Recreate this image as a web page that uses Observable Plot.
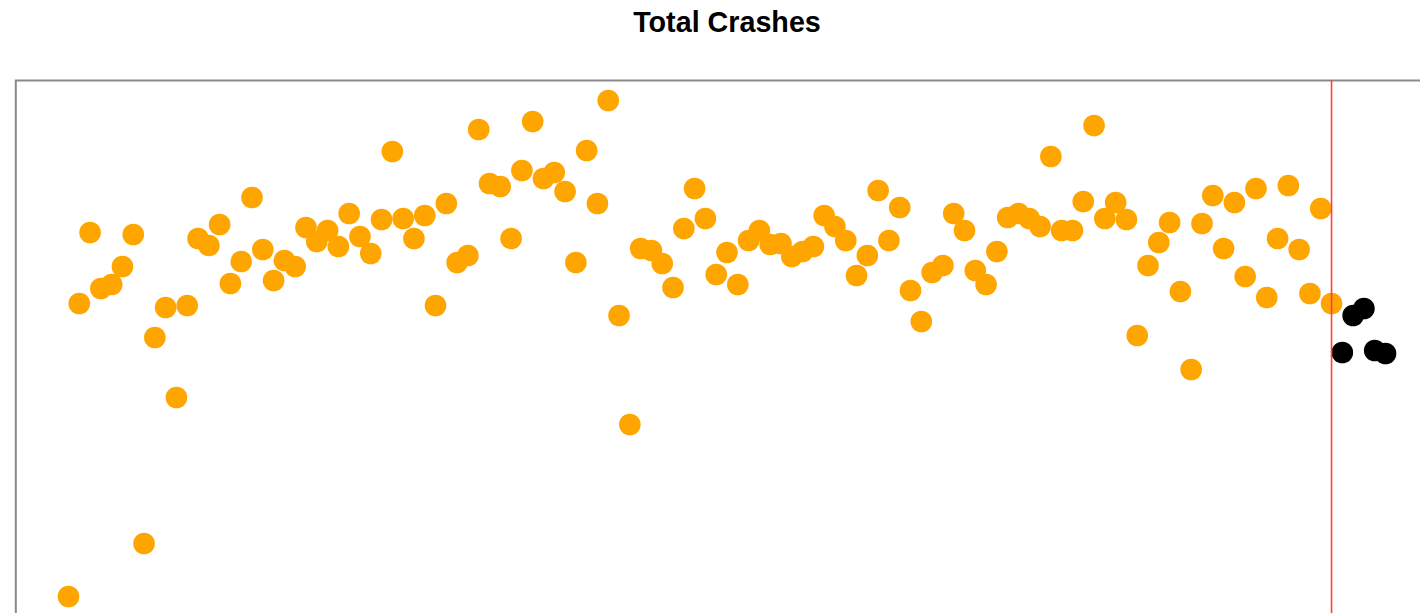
<!DOCTYPE html>
<html>
<head>
<meta charset="utf-8">
<script src="https://cdn.jsdelivr.net/npm/d3@7"></script>
<script src="https://cdn.jsdelivr.net/npm/@observablehq/plot@0.6"></script>
<style>
  html, body { margin: 0; padding: 0; background: #fff; }
  svg { overflow: hidden; display: block; }
</style>
</head>
<body>
<div id="chart"></div>
<script>
const title = "Total Crashes";

// Observed monthly totals (orange), in chart value units
const observed = [
  44, 337, 408, 352, 356, 374, 406, 97, 303, 333, 243, 335, 402, 395, 416, 357, 379, 443, 391, 360,
  380, 374, 413, 399, 410, 394, 427, 404, 387, 421, 489, 422, 402, 425, 335, 437, 378, 385, 511, 457,
  454, 402, 470, 519, 462, 468, 449, 378, 490, 437, 540, 325, 216, 392, 390, 377, 353, 412, 452, 422,
  366, 388, 356, 400, 410, 396, 397, 384, 389, 394, 425, 414, 400, 365, 385, 450, 400, 433, 350, 319,
  368, 375, 427, 410, 370, 356, 389, 423, 427, 422, 414, 484, 410, 410, 439, 515, 422, 438, 421, 305,
  375, 398, 418, 349, 271, 417, 445, 392, 438, 364, 452, 343, 402, 455, 391, 347, 432, 337
];
// Held-out / later months (black)
const later = [288, 325, 332, 290, 287];

// Month index of the last observed month (red marker)
const cutoffMonth = observed.length;

const obsData = observed.map((v, i) => ({month: i + 1, crashes: v}));
const laterData = later.map((v, i) => ({month: observed.length + i + 1, crashes: v}));

const chart = Plot.plot({
  width: 1420,
  height: 613,
  marginLeft: 15.3,
  marginRight: -17.7,
  marginTop: 80,
  marginBottom: -3,
  style: {background: "#fff", overflow: "hidden"},
  x: {domain: [-3.88, 127.88], axis: null},
  y: {domain: [24, 560], axis: null},
  marks: [
    Plot.dot(obsData, {x: "month", y: "crashes", r: 10.8, fill: "#FFA500"}),
    Plot.dot(laterData, {x: "month", y: "crashes", r: 10.8, fill: "#000"}),
    Plot.frame({stroke: "#8a8a8a", strokeWidth: 2}),
    Plot.ruleX([cutoffMonth], {stroke: "#ff4040", strokeWidth: 1.6}),
    Plot.text([title], {
      frameAnchor: "top",
      lineAnchor: "middle",
      dy: -58,
      fontSize: 28.7,
      fontWeight: "bold",
      fontFamily: "Liberation Sans, Arial, sans-serif",
      fill: "#000"
    })
  ]
});
document.getElementById("chart").appendChild(chart);
</script>
</body>
</html>
